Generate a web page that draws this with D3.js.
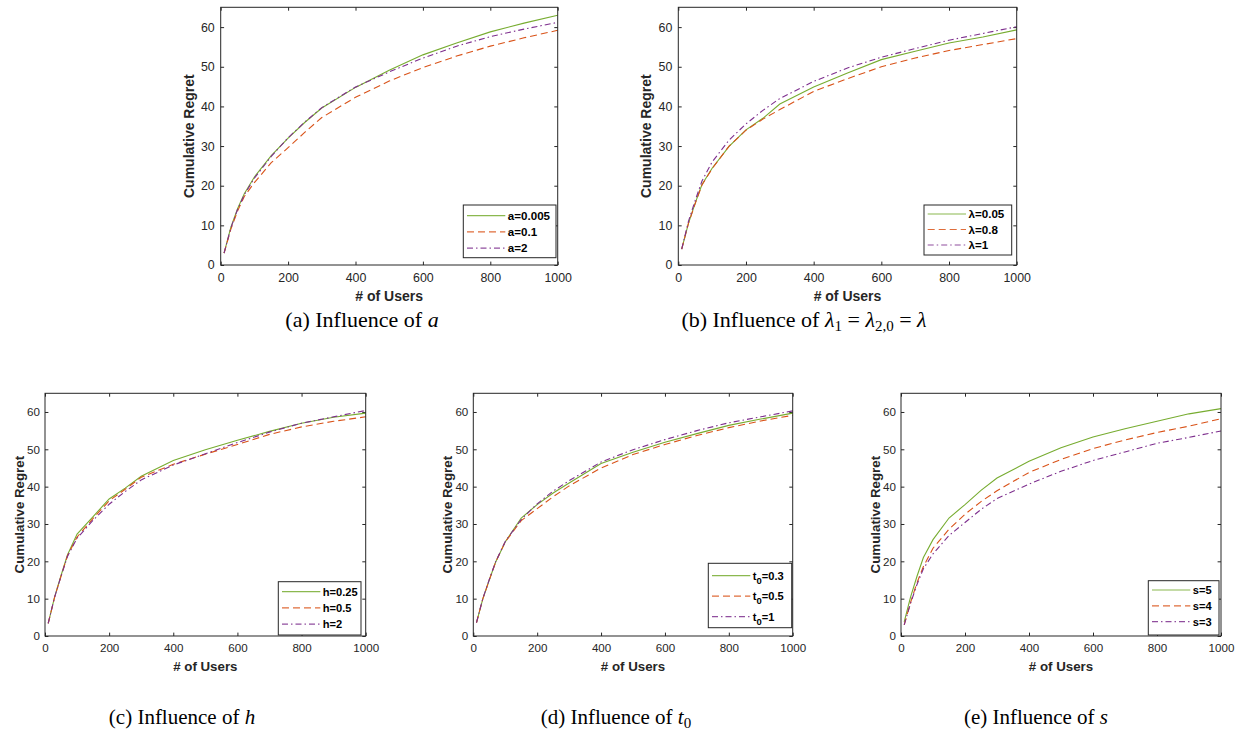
<!DOCTYPE html>
<html>
<head>
<meta charset="utf-8">
<script src="https://cdn.jsdelivr.net/npm/d3@7"></script>
<style>
  body { margin: 0; background: #fff; }
  svg { display: block; }
</style>
</head>
<body>
<svg id="fig" width="1246" height="733"></svg>
<script>
// x positions of the samples (number of users)
const users = [10, 30, 50, 70, 100, 150, 200, 250, 300, 400, 500, 600, 700, 800, 900, 1000];

// (a) influence of a
const regretA0005 = [3.0, 9.5, 14.2, 18.0, 22.2, 27.6, 32.0, 36.0, 39.6, 44.8, 49.1, 53.0, 56.0, 58.8, 61.0, 63.0];
const regretA01   = [3.0, 9.0, 13.6, 17.3, 20.8, 25.8, 29.6, 33.5, 37.2, 42.3, 46.4, 49.8, 52.7, 55.2, 57.3, 59.2];
const regretA2    = [3.0, 9.3, 14.0, 17.7, 21.9, 27.4, 32.1, 36.1, 39.7, 44.9, 48.7, 52.2, 55.2, 57.6, 59.5, 61.2];

// (b) influence of lambda
const regretL005 = [4.0, 10.5, 15.6, 20.3, 24.4, 29.9, 34.1, 37.0, 40.6, 44.9, 48.4, 51.8, 53.9, 56.0, 57.5, 59.3];
const regretL08  = [4.0, 10.5, 15.5, 20.2, 24.3, 30.0, 34.0, 36.8, 39.2, 43.8, 47.0, 50.0, 52.2, 54.1, 55.6, 57.1];
const regretL1   = [4.0, 11.0, 16.3, 21.2, 26.0, 31.5, 35.6, 39.0, 42.0, 46.3, 49.7, 52.4, 54.6, 56.7, 58.4, 60.1];

// (c) influence of h
const regretH025 = [3.4, 10.5, 16.2, 21.7, 27.3, 32.0, 36.7, 39.6, 42.8, 47.0, 49.9, 52.4, 54.8, 57.0, 58.6, 59.7];
const regretH05  = [3.4, 10.4, 16.0, 21.5, 26.5, 31.5, 36.2, 39.3, 42.5, 46.0, 48.7, 51.3, 54.0, 56.0, 57.5, 58.7];
const regretH2   = [3.4, 10.4, 16.0, 21.3, 26.2, 31.0, 35.3, 38.7, 41.8, 45.8, 48.8, 51.8, 54.6, 57.0, 58.7, 60.4];

// (d) influence of t0
const regretT03 = [3.6, 10.0, 15.0, 19.8, 25.2, 31.6, 35.2, 38.3, 41.0, 46.2, 49.2, 51.9, 54.2, 56.4, 58.1, 59.7];
const regretT05 = [3.6, 10.0, 15.0, 19.8, 25.2, 30.9, 34.1, 37.3, 40.2, 45.0, 48.6, 51.3, 53.7, 55.8, 57.6, 59.1];
const regretT1  = [3.6, 10.1, 15.1, 19.9, 25.3, 31.2, 35.4, 38.8, 41.6, 46.6, 49.9, 52.6, 55.0, 57.1, 58.7, 60.3];

// (e) influence of s
const regretS5 = [3.8, 10.5, 16.0, 21.0, 25.8, 31.6, 35.2, 39.0, 42.3, 46.8, 50.4, 53.3, 55.5, 57.5, 59.5, 60.9];
const regretS4 = [3.0, 9.0, 14.3, 18.6, 23.5, 28.6, 32.6, 36.0, 38.9, 43.8, 47.3, 50.2, 52.5, 54.5, 56.2, 58.2];
const regretS3 = [3.0, 8.8, 13.8, 18.0, 22.0, 26.9, 30.4, 33.9, 36.8, 40.7, 44.1, 47.0, 49.3, 51.6, 53.2, 54.9];

const legendA = ["a=0.005", "a=0.1", "a=2"];
const legendB = ["λ=0.05", "λ=0.8", "λ=1"];
const legendC = ["h=0.25", "h=0.5", "h=2"];
const legendD = ["t_0=0.3", "t_0=0.5", "t_0=1"];
const legendE = ["s=5", "s=4", "s=3"];

const xTicks = [0, 200, 400, 600, 800, 1000];
const yTicks = [0, 10, 20, 30, 40, 50, 60];

const colors = ["#77AC30", "#D95319", "#7E2F8E"];
const dashes = [null, "7,4", "6,3,1.5,3"];
const axisColor = "#262626";
const sansFont = "'Liberation Sans', Arial, Helvetica, sans-serif";
const serifFont = "'Liberation Serif', 'Times New Roman', serif";

// layout of each subplot
const panels = [
  { left: 220.7, top: 7.3, right: 557.7, bottom: 265, big: true,
    series: [regretA0005, regretA01, regretA2], labels: legendA,
    legend: { x: 463.3, y: 205, w: 92.7, h: 52.7, row0: 10.7, pitch: 16.2 },
    caption: [["(a) Influence of ", ""], ["a", "i"]], capX: 362, capY: 327 },
  { left: 678.3, top: 7.3, right: 1016.7, bottom: 265, big: true,
    series: [regretL005, regretL08, regretL1], labels: legendB,
    legend: { x: 924, y: 205, w: 87.7, h: 50, row0: 9, pitch: 15.5 },
    caption: [["(b) Influence of ", ""], ["λ", "i"], ["1", "sub"], [" = ", ""], ["λ", "i"], ["2,0", "sub"], [" = ", ""], ["λ", "i"]],
    capX: 804, capY: 327 },
  { left: 45, top: 393.3, right: 365.7, bottom: 636, big: false,
    series: [regretH025, regretH05, regretH2], labels: legendC,
    legend: { x: 278.3, y: 581.7, w: 82.7, h: 53.3, row0: 10, pitch: 16.2 },
    caption: [["(c) Influence of ", ""], ["h", "i"]], capX: 182, capY: 724 },
  { left: 473.3, top: 393.3, right: 792.7, bottom: 636, big: false,
    series: [regretT03, regretT05, regretT1], labels: legendD,
    legend: { x: 708.3, y: 563.3, w: 83.4, h: 64.4, row0: 12.4, pitch: 20.5 },
    caption: [["(d) Influence of ", ""], ["t", "i"], ["0", "sub"]], capX: 616, capY: 724 },
  { left: 901, top: 393.3, right: 1221, bottom: 636, big: false,
    series: [regretS5, regretS4, regretS3], labels: legendE,
    legend: { x: 1148.3, y: 580.7, w: 70.7, h: 54.3, row0: 9.3, pitch: 15.8 },
    caption: [["(e) Influence of ", ""], ["s", "i"]], capX: 1036, capY: 724 }
];

const svg = d3.select("#fig");

// write "t_0=0.3" style labels with a subscript
function richLabel(text, label) {
  const m = label.match(/^(.*?)_(\w)(.*)$/);
  if (!m) { text.text(label); return; }
  text.append("tspan").text(m[1]);
  text.append("tspan").attr("dy", 4).attr("font-size", "0.85em").text(m[2]);
  text.append("tspan").attr("dy", -4).text(m[3]);
}

panels.forEach(p => {
  const w = p.right - p.left, h = p.bottom - p.top;
  const x = d3.scaleLinear().domain([0, 1000]).range([0, w]);
  const y = d3.scaleLinear().domain([0, 65]).range([h, 0]);
  const tickFs = p.big ? 12.4 : 11.6;
  const labelFs = p.big ? 14 : 13.3;

  const g = svg.append("g").attr("transform", `translate(${p.left},${p.top})`);

  const styleAxis = sel => {
    sel.select(".domain").remove();
    sel.selectAll("line").attr("stroke", axisColor);
    sel.selectAll("text").attr("fill", axisColor).attr("font-family", sansFont).attr("font-size", tickFs);
  };

  g.append("g").attr("transform", `translate(0,${h})`)
    .call(d3.axisBottom(x).tickValues(xTicks).tickFormat(d3.format("d")).tickSizeInner(-3.4).tickSizeOuter(0).tickPadding(8))
    .call(styleAxis);
  g.append("g")
    .call(d3.axisTop(x).tickValues(xTicks).tickSizeInner(-3.4).tickSizeOuter(0).tickFormat(""))
    .call(styleAxis);
  g.append("g")
    .call(d3.axisLeft(y).tickValues(yTicks).tickSizeInner(-3.4).tickSizeOuter(0).tickPadding(p.big ? 6 : 5))
    .call(styleAxis);
  g.append("g").attr("transform", `translate(${w},0)`)
    .call(d3.axisRight(y).tickValues(yTicks).tickSizeInner(-3.4).tickSizeOuter(0).tickFormat(""))
    .call(styleAxis);

  // curves
  const line = d3.line().x((d, i) => x(users[i])).y(d => y(d));
  p.series.forEach((s, k) => {
    g.append("path")
      .datum(s)
      .attr("fill", "none")
      .attr("stroke", colors[k])
      .attr("stroke-width", 1.1)
      .attr("stroke-dasharray", dashes[k])
      .attr("d", line);
  });

  // box
  g.append("rect")
    .attr("width", w).attr("height", h)
    .attr("fill", "none").attr("stroke", axisColor).attr("stroke-width", 1);

  // axis labels
  g.append("text")
    .attr("x", w / 2).attr("y", h + (p.big ? 36.5 : 35.5))
    .attr("text-anchor", "middle")
    .attr("font-family", sansFont).attr("font-weight", "bold").attr("font-size", labelFs)
    .attr("fill", axisColor)
    .text("# of Users");
  g.append("text")
    .attr("transform", `translate(${p.big ? -27 : -21.5},${h / 2}) rotate(-90)`)
    .attr("text-anchor", "middle")
    .attr("font-family", sansFont).attr("font-weight", "bold").attr("font-size", labelFs)
    .attr("fill", axisColor)
    .text("Cumulative Regret");

  // legend
  const L = p.legend;
  const lg = svg.append("g").attr("transform", `translate(${L.x},${L.y})`);
  lg.append("rect").attr("width", L.w).attr("height", L.h)
    .attr("fill", "#fff").attr("stroke", axisColor).attr("stroke-width", 1);
  p.labels.forEach((lab, k) => {
    const ry = L.row0 + k * L.pitch;
    lg.append("line")
      .attr("x1", 3.7).attr("x2", 42).attr("y1", ry).attr("y2", ry)
      .attr("stroke", colors[k]).attr("stroke-width", 1.2)
      .attr("stroke-opacity", 0.85)
      .attr("stroke-dasharray", dashes[k]);
    const t = lg.append("text")
      .attr("x", 44.5).attr("y", ry + 4)
      .attr("font-family", sansFont).attr("font-weight", "bold")
      .attr("font-size", p.big ? 11.6 : 11.1)
      .attr("fill", "#000");
    richLabel(t, lab);
  });

  // caption
  const cap = svg.append("text")
    .attr("x", p.capX).attr("y", p.capY)
    .attr("text-anchor", "middle")
    .attr("font-family", serifFont).attr("font-size", p.big ? 22 : 21)
    .attr("fill", "#000");
  let shift = 0;
  p.caption.forEach(([str, kind]) => {
    const ts = cap.append("tspan").text(str);
    if (kind === "i") ts.attr("font-style", "italic");
    if (kind === "sub") {
      ts.attr("font-size", 15).attr("dy", 4 - shift);
      shift = 4;
    } else if (shift) {
      ts.attr("dy", -shift);
      shift = 0;
    }
  });
});
</script>
</body>
</html>
